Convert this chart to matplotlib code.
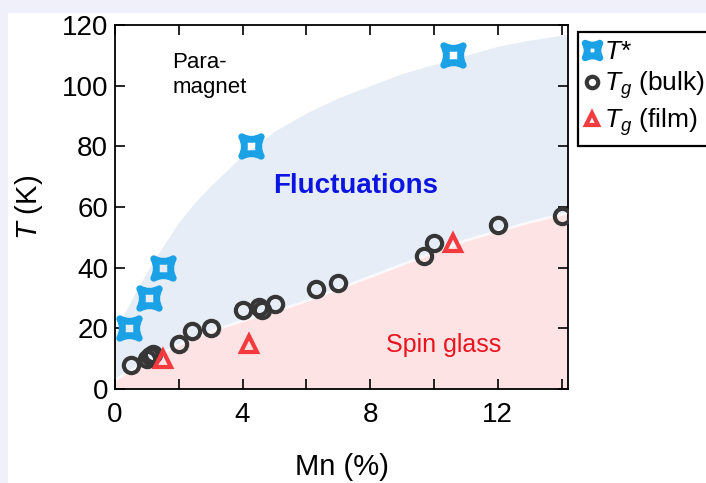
import numpy as np
import matplotlib.pyplot as plt
from matplotlib.path import Path
from matplotlib.patches import Rectangle

plt.rcParams['font.family'] = ['Liberation Sans', 'DejaVu Sans']
plt.rcParams['mathtext.fontset'] = 'custom'
plt.rcParams['mathtext.rm'] = 'Liberation Sans'
plt.rcParams['mathtext.it'] = 'Liberation Sans:italic'

# crossover temperature T*
tstar_mn = [0.45, 1.05, 1.5, 4.25, 10.6]
tstar_t = [20, 30, 40, 80, 110]

# spin-glass freezing, bulk samples
bulk_mn = [0.5, 1.0, 1.1, 1.2, 2.0, 2.4, 3.0, 4.0, 4.5, 4.6, 5.0, 6.3, 7.0, 9.7, 10.0, 12.0, 14.0]
bulk_t = [8, 10, 11, 11.5, 15, 19, 20, 26, 27, 26, 28, 33, 35, 44, 48, 54, 57]

# spin-glass freezing, films
film_mn = [1.5, 4.2, 10.6]
film_t = [10, 15, 48]

# region boundaries (fluctuation dome / spin glass)
edge_mn = [0, 0.25, 0.5, 0.75, 1, 1.25, 1.5, 2, 2.5, 3, 4, 5, 6, 7, 8, 9, 10, 11, 12, 13, 14.2]
upper_t = [18, 24, 29, 34, 38.5, 43, 47, 55, 61.5, 67, 77, 85, 91, 96, 100, 104, 107, 110, 113, 115, 117]
lower_t = [3, 4.5, 6, 7.5, 9, 10.5, 12, 14.5, 17, 19, 22.5, 25.5, 29, 33, 37, 41, 45, 49, 52, 55, 58]

# concave four-point star used for T*
verts = [(1, 1), (0, 0.45), (-1, 1), (-0.45, 0), (-1, -1), (0, -0.45), (1, -1), (0.45, 0), (1, 1), (1, 1)]
codes = [Path.MOVETO, Path.CURVE3, Path.CURVE3, Path.CURVE3, Path.CURVE3,
         Path.CURVE3, Path.CURVE3, Path.CURVE3, Path.CURVE3, Path.CLOSEPOLY]
star = Path(verts, codes)

fig = plt.figure(figsize=(7.06, 4.83), dpi=100)
fig.patch.set_facecolor('#eff0fa')
fig.patches.append(Rectangle((8 / 706, 0), 1, 470 / 483, transform=fig.transFigure,
                             facecolor='white', edgecolor='none', zorder=-1))
ax = fig.add_axes([0.1629, 0.1946, 0.6416, 0.7536])

ax.fill_between(edge_mn, lower_t, upper_t, color='#e6edf6', lw=0, zorder=0)
ax.fill_between(edge_mn, 0, lower_t, color='#fde3e4', lw=0, zorder=0)
ax.plot(edge_mn, lower_t, color='white', lw=2, alpha=0.7, zorder=0.5)

ax.plot(tstar_mn, tstar_t, ls='none', marker=star, ms=14, mfc='none', mec='#1ba1e6',
        mew=5, label='$T$*', zorder=3)
ax.plot(bulk_mn, bulk_t, ls='none', marker='o', ms=11, mfc='none', mec='#363636',
        mew=3, label='$T_g$ (bulk)', zorder=3)
ax.plot(film_mn, film_t, ls='none', marker='^', ms=11, mfc='none', mec='#f23a3f',
        mew=3, label='$T_g$ (film)', zorder=3)

ax.text(1.8, 111, 'Para-\nmagnet', fontsize=16, ha='left', va='top', linespacing=1.2)
ax.text(7.55, 67, 'Fluctuations', fontsize=20, fontweight='bold', color='#0b14e0',
        ha='center', va='center')
ax.text(10.3, 14.5, 'Spin glass', fontsize=18, color='#e8141e', ha='center', va='center')

ax.set_xlim(0, 14.2)
ax.set_ylim(0, 120)
ax.set_xticks(range(0, 15, 2))
ax.set_xticklabels(['0', '', '4', '', '8', '', '12', ''])
ax.set_yticks(range(0, 121, 20))
ax.tick_params(direction='in', top=True, right=True, length=7, width=1.2, labelsize=20)
ax.tick_params(axis='x', pad=9)
ax.tick_params(axis='y', pad=5)
for s in ax.spines.values():
    s.set_linewidth(1.3)

ax.set_xlabel('Mn (%)', fontsize=21, va='top')
ax.xaxis.set_label_coords(0.5, -0.175)
ax.set_ylabel('$T$ (K)', fontsize=21)
ax.yaxis.set_label_coords(-0.155, 0.5)

leg = ax.legend(loc='upper left', bbox_to_anchor=(1.022, 0.98), fontsize=19,
                handlelength=0.5, handletextpad=0.2, borderpad=0.3, labelspacing=0.2,
                borderaxespad=0, markerscale=0.75, fancybox=False, framealpha=1,
                edgecolor='black')
leg.get_frame().set_linewidth(1.6)

fig.savefig('out.png', dpi=100, facecolor=fig.get_facecolor())
